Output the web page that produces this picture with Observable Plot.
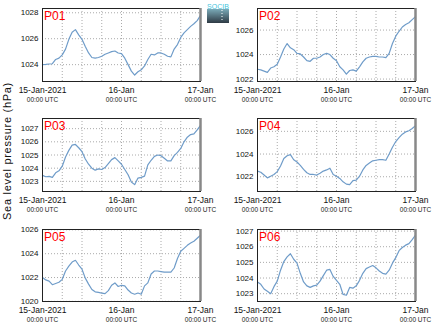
<!DOCTYPE html>
<html>
<head>
<meta charset="utf-8">
<script src="https://cdn.jsdelivr.net/npm/d3@7"></script>
<script src="https://cdn.jsdelivr.net/npm/@observablehq/plot@0.6"></script>
<style>
  html, body { margin: 0; padding: 0; background: #fff; }
  #root { position: relative; width: 435px; height: 327px; overflow: hidden; font-family: "Liberation Sans", Arial, sans-serif; }
  .panel { position: absolute; }
  .panel svg { overflow: visible; background: transparent; }
  #ylabel { position: absolute; left: 0; top: 0; }
  #logo { position: absolute; left: 207px; top: 2px; }
</style>
</head>
<body>
<div id="root">
  <svg id="ylabel" width="24" height="327">
    <text x="10.7" y="151" transform="rotate(-90 10.7 151)" text-anchor="middle" font-size="11" letter-spacing="0.7" font-family="Liberation Sans, Arial, sans-serif" fill="#111">Sea level pressure (hPa)</text>
  </svg>
  <svg id="logo" width="24" height="22">
    <defs>
      <linearGradient id="lg" x1="0" y1="0" x2="0" y2="1">
        <stop offset="0" stop-color="#7aaab8"/>
        <stop offset="1" stop-color="#2e3a44"/>
      </linearGradient>
    </defs>
    <rect x="0" y="7" width="22" height="14" fill="url(#lg)"/>
    <line x1="15" y1="8" x2="15" y2="20" stroke="#fff" stroke-dasharray="1,2" stroke-width="1"/>
    <text x="11" y="6.5" text-anchor="middle" font-size="7" font-family="Liberation Sans, Arial, sans-serif" fill="#44c4dc">SOCIB</text>
  </svg>
</div>
<script>
// ---- data ----
const hours = [0,1,2,3,4,5,6,7,8,9,10,11,12,13,14,15,16,17,18,19,20,21,22,23,24,25,26,27,28,29,30,31,32,33,34,35,36,37,38,39,40,41,42,43,44,45,46,47,48];
const startTime = "2021-01-15T00:00:00Z";
const endTime = "2021-01-17T00:00:00Z";

const p01 = [1024.0,1024.02,1024.05,1024.07,1024.4,1024.5,1024.75,1025.2,1025.95,1026.5,1026.7,1026.3,1025.95,1025.4,1024.9,1024.55,1024.5,1024.55,1024.65,1024.8,1024.9,1025.0,1025.05,1024.9,1024.85,1024.5,1024.0,1023.5,1023.2,1023.45,1023.6,1023.9,1024.4,1024.8,1024.75,1024.9,1024.9,1024.8,1024.65,1024.6,1025.2,1025.55,1026.1,1026.45,1026.7,1026.95,1027.15,1027.4,1027.8];
const p02 = [1022.8,1022.75,1022.65,1022.55,1022.9,1023.0,1023.2,1023.8,1024.45,1024.9,1024.55,1024.4,1024.1,1024.05,1023.8,1023.5,1023.45,1023.7,1023.7,1023.8,1024.0,1024.1,1024.0,1023.7,1023.5,1023.0,1022.75,1022.4,1022.7,1022.75,1022.65,1023.0,1023.4,1023.7,1023.8,1023.85,1023.85,1023.8,1023.8,1023.75,1024.1,1024.9,1025.5,1025.9,1026.25,1026.45,1026.6,1026.85,1027.1];
const p03 = [1023.45,1023.35,1023.38,1023.3,1023.65,1023.8,1024.15,1024.85,1025.35,1025.75,1025.8,1025.55,1025.25,1024.7,1024.3,1024.0,1023.85,1023.95,1023.9,1024.05,1024.35,1024.65,1024.8,1024.55,1024.3,1023.9,1023.5,1022.95,1022.75,1023.25,1023.3,1023.4,1024.25,1024.6,1024.9,1025.0,1024.95,1024.75,1024.55,1024.55,1024.95,1025.2,1025.5,1026.0,1026.35,1026.55,1026.6,1026.9,1027.25];
const p04 = [1022.5,1022.4,1022.15,1021.9,1022.05,1022.2,1022.45,1022.95,1023.6,1023.85,1023.95,1023.5,1023.3,1023.0,1022.65,1022.35,1022.2,1022.2,1022.15,1022.3,1022.5,1022.6,1022.75,1022.2,1022.05,1021.85,1021.55,1021.35,1021.3,1021.65,1021.7,1022.05,1022.6,1023.0,1023.2,1023.4,1023.45,1023.5,1023.5,1023.45,1024.0,1024.6,1025.1,1025.45,1025.75,1025.95,1026.05,1026.25,1026.5];
const p05 = [1022.0,1021.8,1021.7,1021.4,1021.5,1021.6,1021.85,1022.55,1022.95,1023.3,1023.45,1023.05,1022.7,1021.95,1021.45,1021.0,1020.8,1020.75,1020.7,1020.65,1020.9,1021.35,1021.55,1021.25,1021.35,1021.3,1020.95,1020.7,1020.6,1020.7,1020.6,1021.3,1021.55,1022.3,1022.55,1022.55,1022.5,1022.45,1022.45,1022.45,1022.8,1023.6,1024.2,1024.45,1024.7,1024.9,1025.05,1025.3,1025.55];
const p06 = [1023.75,1023.6,1023.3,1023.15,1023.0,1023.45,1023.8,1024.5,1025.05,1025.35,1025.55,1025.2,1024.95,1024.3,1023.75,1023.5,1023.4,1023.5,1023.55,1023.8,1024.15,1024.5,1024.55,1024.1,1023.85,1023.6,1022.95,1022.9,1023.4,1023.35,1023.5,1023.85,1024.3,1024.6,1024.7,1024.8,1024.65,1024.45,1024.3,1024.25,1024.5,1024.95,1025.3,1025.75,1025.95,1026.1,1026.2,1026.45,1026.75];

const panelNames = ["P01","P02","P03","P04","P05","P06"];
const yTicks01 = [1024,1026,1028];
const yTicks02 = [1022,1024,1026];
const yTicks03 = [1023,1024,1025,1026,1027];
const yTicks04 = [1022,1024,1026];
const yTicks05 = [1020,1022,1024,1026];
const yTicks06 = [1023,1024,1025,1026,1027];
const xTickHours = [0,24,48];
const xTickMain = ["15-Jan-2021","16-Jan","17-Jan"];
const xTickSub = ["00:00 UTC","00:00 UTC","00:00 UTC"];
const gridHours = [6,12,18,24,30,36,42];

// ---- build ----
const t0 = new Date(startTime).getTime();
const toDate = h => new Date(t0 + h * 3600e3);
const xTicks = xTickHours.map((h,i) => ({t: toDate(h), main: xTickMain[i], sub: xTickSub[i]}));

const panels = [
  {name: panelNames[0], vals: p01, ticks: yTicks01, domain: [1022.7, 1028.33], left: 0,   top: 0},
  {name: panelNames[1], vals: p02, ticks: yTicks02, domain: [1021.8, 1027.76], left: 215, top: 0},
  {name: panelNames[2], vals: p03, ticks: yTicks03, domain: [1022.23, 1027.77], left: 0,   top: 110},
  {name: panelNames[3], vals: p04, ticks: yTicks04, domain: [1020.7, 1027.13], left: 215, top: 110},
  {name: panelNames[4], vals: p05, ticks: yTicks05, domain: [1019.99, 1026.03], left: 0,   top: 221, h: 106, mb: 26},
  {name: panelNames[5], vals: p06, ticks: yTicks06, domain: [1022.5, 1027.1], left: 215, top: 221, h: 106, mb: 26}
];

const root = document.getElementById("root");
const font = "Liberation Sans, Arial, sans-serif";

for (const p of panels) {
  const data = hours.map((h, i) => ({t: toDate(h), v: p.vals[i]}));
  const chart = Plot.plot({
    width: 217,
    height: p.h || 108,
    marginLeft: 42,
    marginRight: 17,
    marginTop: 8,
    marginBottom: p.mb || 27,
    x: {type: "utc", domain: [new Date(startTime), new Date(endTime)], axis: null},
    y: {domain: p.domain, axis: null},
    style: {fontFamily: font, background: "transparent", overflow: "visible", color: "#111"},
    marks: [
      Plot.gridX(gridHours.map(toDate), {stroke: "#aaa", strokeOpacity: 1, strokeDasharray: "1,2"}),
      Plot.gridY(p.ticks, {stroke: "#aaa", strokeOpacity: 1, strokeDasharray: "1,2"}),
      Plot.line(data, {x: "t", y: "v", stroke: "#6f9cc9", strokeWidth: 1.2}),
      Plot.frame({stroke: "#222", strokeWidth: 1}),
      Plot.ruleX([new Date(endTime)], {stroke: "#888", strokeWidth: 2.5}),
      Plot.axisY(p.ticks, {tickSize: 0, tickPadding: 4, fontSize: 8, fill: "#111", tickFormat: "d", label: null}),
      Plot.text(xTicks, {x: "t", text: "main", frameAnchor: "bottom", dy: 8.5, lineAnchor: "middle", fontSize: 8.5, fill: "#111"}),
      Plot.text(xTicks, {x: "t", text: "sub", frameAnchor: "bottom", dy: 18, lineAnchor: "middle", fontSize: 6.5, fill: "#222"}),
      Plot.text([p.name], {text: d => d, frameAnchor: "top-left", dx: 1.5, dy: 3, lineAnchor: "top", textAnchor: "start", fill: "red", fontSize: 12})
    ]
  });
  const div = document.createElement("div");
  div.className = "panel";
  div.style.left = p.left + "px";
  div.style.top = p.top + "px";
  div.appendChild(chart);
  root.appendChild(div);
}
</script>
</body>
</html>
